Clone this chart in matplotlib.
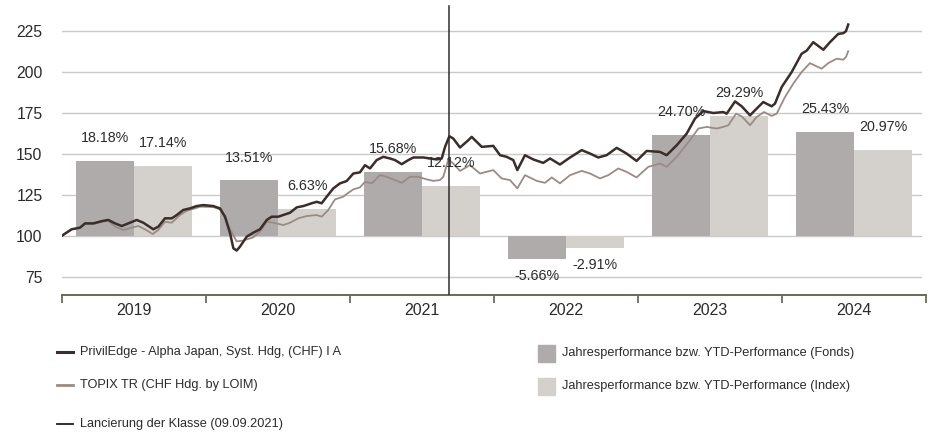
import matplotlib
matplotlib.use("Agg")
import matplotlib.pyplot as plt
from matplotlib.lines import Line2D
from matplotlib.patches import Rectangle

plt.rcParams['font.family'] = ['Liberation Sans', 'DejaVu Sans']

# Jahresperformance (in %)
jahre = [2019, 2020, 2021, 2022, 2023, 2024]
perf_fonds = [18.18, 13.51, 15.68, -5.66, 24.70, 25.43]
perf_index = [17.14, 6.63, 12.12, -2.91, 29.29, 20.97]

# Indexierte Entwicklung (Start = 100), Zeit in Jahresbruchteilen
t_fonds = [2019.000, 2019.067, 2019.125, 2019.160, 2019.217, 2019.287, 2019.322, 2019.368,
           2019.415, 2019.460, 2019.519, 2019.565, 2019.634, 2019.669, 2019.715, 2019.762,
           2019.797, 2019.842, 2019.889, 2019.935, 2019.981, 2020.051, 2020.097, 2020.132,
           2020.167, 2020.190, 2020.213, 2020.236, 2020.283, 2020.328, 2020.375, 2020.422,
           2020.456, 2020.502, 2020.549, 2020.583, 2020.630, 2020.676, 2020.734, 2020.769,
           2020.803, 2020.838, 2020.884, 2020.931, 2020.977, 2021.023, 2021.069, 2021.104,
           2021.139, 2021.185, 2021.231, 2021.278, 2021.313, 2021.359, 2021.405, 2021.440,
           2021.509, 2021.556, 2021.602, 2021.637, 2021.660, 2021.690, 2021.717, 2021.764,
           2021.822, 2021.845, 2021.915, 2021.995, 2022.042, 2022.088, 2022.134, 2022.162,
           2022.215, 2022.273, 2022.342, 2022.389, 2022.458, 2022.528, 2022.609, 2022.667,
           2022.724, 2022.782, 2022.852, 2022.921, 2022.990, 2023.060, 2023.153, 2023.199,
           2023.269, 2023.338, 2023.396, 2023.453, 2023.523, 2023.592, 2023.616, 2023.674,
           2023.720, 2023.778, 2023.824, 2023.870, 2023.928, 2023.951, 2023.998, 2024.067,
           2024.136, 2024.172, 2024.217, 2024.287, 2024.333, 2024.391, 2024.426, 2024.444,
           2024.460]
v_fonds = [100.0, 103.9, 104.9, 107.5, 107.5, 109.1, 109.6, 107.5,
           105.9, 107.5, 109.6, 107.9, 103.9, 105.5, 110.6, 110.6,
           112.6, 115.7, 116.7, 118.1, 118.7, 118.1, 116.7, 111.6,
           101.5, 92.3, 90.9, 93.3, 99.4, 101.8, 103.9, 109.6,
           111.6, 111.6, 113.0, 114.0, 117.3, 118.1, 119.8, 120.7,
           119.8, 123.8, 128.9, 132.0, 133.4, 138.0, 138.7, 143.1,
           141.1, 146.2, 148.2, 147.2, 146.2, 143.7, 146.2, 147.8,
           147.8, 147.2, 146.6, 147.2, 154.3, 160.8, 159.4, 153.9,
           158.4, 160.4, 154.3, 154.9, 149.2, 148.2, 146.2, 140.1,
           149.2, 146.6, 144.5, 147.2, 143.5, 147.8, 152.3, 150.2,
           147.8, 149.2, 153.7, 150.2, 145.7, 151.8, 151.2, 149.2,
           155.3, 162.4, 171.6, 176.2, 175.0, 175.6, 174.6, 182.1,
           179.1, 173.6, 177.7, 181.7, 179.1, 180.7, 190.9, 200.0,
           211.2, 213.2, 218.3, 213.7, 218.3, 223.4, 223.8, 225.0,
           229.1]

t_index = [2019.000, 2019.067, 2019.125, 2019.160, 2019.217, 2019.287, 2019.322, 2019.368,
           2019.426, 2019.484, 2019.530, 2019.576, 2019.630, 2019.669, 2019.715, 2019.762,
           2019.819, 2019.866, 2019.924, 2019.958, 2020.051, 2020.097, 2020.132, 2020.167,
           2020.213, 2020.259, 2020.328, 2020.375, 2020.422, 2020.468, 2020.537, 2020.583,
           2020.641, 2020.699, 2020.769, 2020.803, 2020.849, 2020.896, 2020.953, 2020.988,
           2021.023, 2021.069, 2021.104, 2021.151, 2021.208, 2021.255, 2021.313, 2021.359,
           2021.417, 2021.474, 2021.533, 2021.578, 2021.625, 2021.648, 2021.683, 2021.717,
           2021.764, 2021.833, 2021.903, 2021.995, 2022.053, 2022.111, 2022.162, 2022.215,
           2022.297, 2022.354, 2022.401, 2022.458, 2022.528, 2022.609, 2022.667, 2022.736,
           2022.794, 2022.863, 2022.921, 2022.990, 2023.072, 2023.153, 2023.199, 2023.269,
           2023.361, 2023.419, 2023.477, 2023.546, 2023.592, 2023.627, 2023.681, 2023.720,
           2023.778, 2023.824, 2023.875, 2023.928, 2023.963, 2024.021, 2024.078, 2024.136,
           2024.194, 2024.275, 2024.321, 2024.380, 2024.426, 2024.444, 2024.460]
v_index = [100.0, 103.9, 104.9, 107.2, 107.2, 108.6, 109.0, 105.5,
           103.5, 104.9, 105.9, 103.9, 101.0, 103.5, 108.5, 107.9,
           112.6, 115.2, 116.7, 117.7, 117.5, 116.0, 111.0, 104.0,
           96.5, 97.0, 99.0, 102.5, 108.5, 107.9, 106.5, 107.9,
           110.6, 112.0, 112.6, 111.6, 115.7, 122.2, 123.8, 126.2,
           128.3, 129.5, 132.9, 132.0, 137.0, 136.0, 134.0, 132.3,
           136.0, 136.0, 134.4, 133.5, 134.0, 136.0, 146.6, 144.1,
           139.6, 143.1, 138.0, 140.1, 135.0, 134.0, 128.9, 137.0,
           133.5, 132.3, 135.6, 132.0, 137.0, 139.6, 138.0, 135.0,
           137.0, 141.1, 139.0, 135.6, 142.1, 144.1, 142.1, 148.2,
           158.4, 165.5, 166.5, 165.5, 166.5, 167.5, 174.6, 173.0,
           167.5, 172.6, 175.6, 173.2, 174.6, 184.8, 192.9, 200.0,
           205.5, 202.1, 205.5, 208.2, 207.6, 209.2, 212.8]

lancierung = 2021 + 251 / 365  # 09.09.2021

c_fonds_line = '#3a2e2b'
c_index_line = '#9a8c85'
c_fonds_bar = '#afabaa'
c_index_bar = '#d4d0cc'
c_text = '#2b2b2b'
c_axis = '#6b6b55'

W, H = 930, 434
fig = plt.figure(figsize=(W / 100, H / 100), dpi=100)
ax = fig.add_axes([62 / W, (H - 294.7) / H, 864 / W, 294.7 / H])

ax.set_xlim(2019, 2025)
ax.set_ylim(63.9, 244.1)

# Gitterlinien
for g in [75, 100, 125, 150, 175, 200, 225]:
    ax.axhline(g, xmin=0, xmax=0.994, color='#c9c9c9', lw=1.0, zorder=0)

# Balken: Basis 100, 1% = 2.5 Punkte
bw = 0.403
for j, pf, pi in zip(jahre, perf_fonds, perf_index):
    xc = j + 0.5
    ax.bar(xc - bw / 2, pf * 2.5, bottom=100, width=bw, color=c_fonds_bar, zorder=1)
    ax.bar(xc + bw / 2, pi * 2.5, bottom=100, width=bw, color=c_index_bar, zorder=1)
    for x, p in [(xc - bw / 2, pf), (xc + bw / 2, pi)]:
        top = 100 + p * 2.5
        off = 16.5 if p > 0 else -12.5
        ax.annotate(f"{p:.2f}%", (x, top), xytext=(0, off), textcoords='offset points',
                    ha='center', va='center', fontsize=10.3, color=c_text, zorder=4)

ax.plot(t_index, v_index, color=c_index_line, lw=1.3, zorder=2)
ax.plot(t_fonds, v_fonds, color=c_fonds_line, lw=1.8, zorder=3)
ax.plot([lancierung, lancierung], [240.4, 63.9], color='#2e2e2e', lw=1.1, zorder=3)

for s in ['top', 'left', 'right']:
    ax.spines[s].set_visible(False)
ax.spines['bottom'].set_color(c_axis)
ax.spines['bottom'].set_linewidth(1.4)

ax.set_xticks(range(2019, 2026))
ax.set_xticklabels([])
ax.set_xticks([j + 0.5 for j in jahre], minor=True)
ax.set_xticklabels([str(j) for j in jahre], minor=True)
ax.tick_params(axis='x', which='major', length=6, width=1.3, color=c_axis, direction='out')
ax.tick_params(axis='x', which='minor', length=0, pad=6, labelsize=11.5, labelcolor=c_text)

ax.set_yticks([75, 100, 125, 150, 175, 200, 225])
ax.tick_params(axis='y', length=0, pad=14, labelsize=11.3, labelcolor=c_text)

# Legende (Figurkoordinaten in Pixel)
def fx(px):
    return px / W

def fy(py):
    return (H - py) / H

for y, col, lw, lab in [(352, c_fonds_line, 2.2, "PrivilEdge - Alpha Japan, Syst. Hdg, (CHF) I A"),
                        (385, c_index_line, 2.0, "TOPIX TR (CHF Hdg. by LOIM)"),
                        (424, '#1e1e1e', 1.3, "Lancierung der Klasse (09.09.2021)")]:
    fig.add_artist(Line2D([fx(57), fx(73)], [fy(y), fy(y)], color=col, lw=lw,
                          transform=fig.transFigure))
    fig.text(fx(80), fy(y), lab, ha='left', va='center', fontsize=9.2, color=c_text)

for y, col, lab in [(353, c_fonds_bar, "Jahresperformance bzw. YTD-Performance (Fonds)"),
                    (386, c_index_bar, "Jahresperformance bzw. YTD-Performance (Index)")]:
    fig.add_artist(Rectangle((fx(538), fy(y + 8.5)), 17 / W, 17 / H, color=col,
                             transform=fig.transFigure))
    fig.text(fx(562), fy(y), lab, ha='left', va='center', fontsize=9.2, color=c_text)

fig.savefig("out.png", dpi=100)
